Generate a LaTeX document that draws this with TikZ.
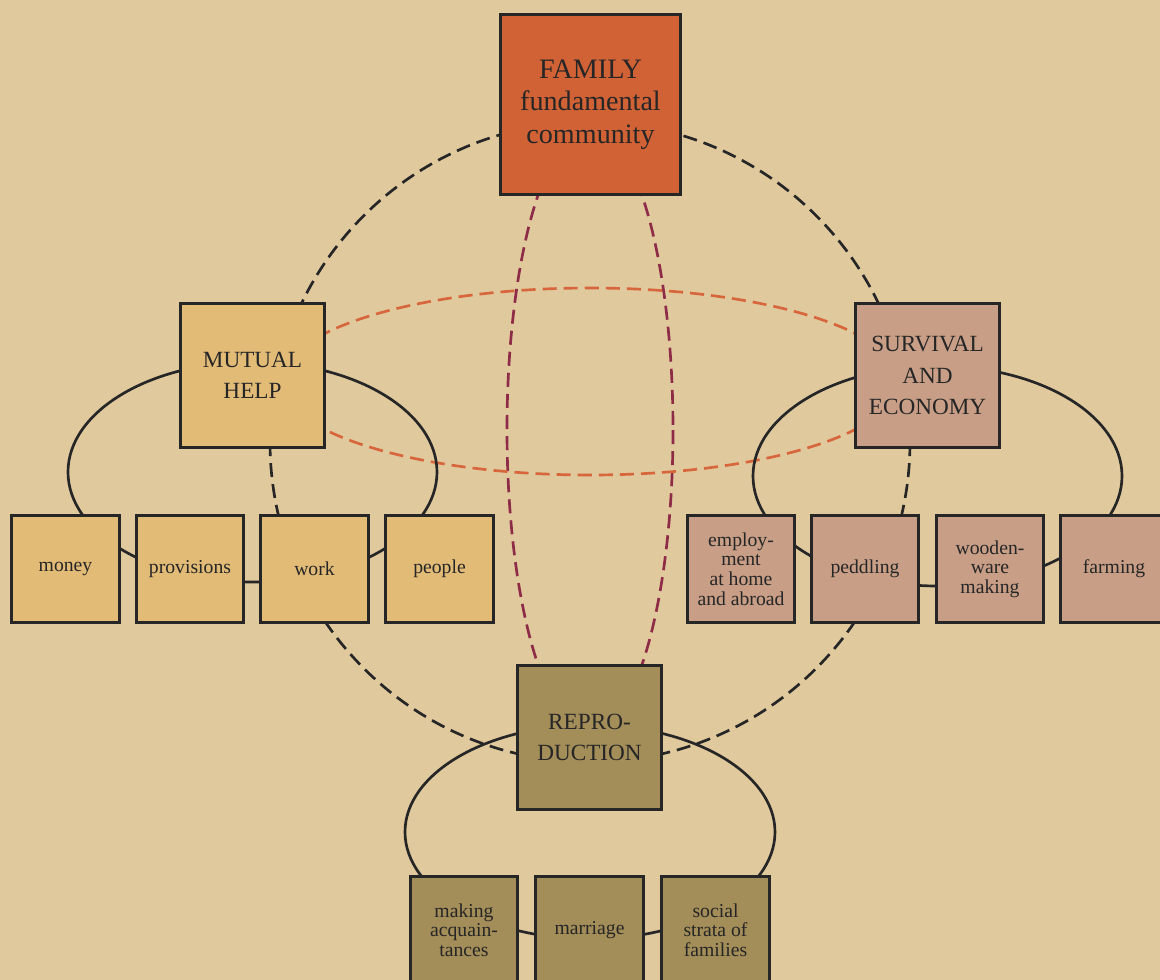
\documentclass[tikz,border=0pt]{standalone}
\usepackage{fontspec}
\setmainfont{Liberation Serif}
\definecolor{paper}{HTML}{E0C99D}
\definecolor{ink}{HTML}{262626}
\definecolor{famfill}{HTML}{D06236}
\definecolor{helpfill}{HTML}{E2BB77}
\definecolor{survfill}{HTML}{C89E86}
\definecolor{reprofill}{HTML}{A38D58}
\definecolor{orangedash}{HTML}{D8663C}
\definecolor{reddash}{HTML}{8E2C48}

\begin{document}
\begin{tikzpicture}[x=0.025cm,y=-0.025cm,
    box/.style={draw=ink,line width=2.1pt,text=ink,align=center,inner sep=0pt},
    bigbox/.style={box,minimum size=4.5cm,font=\fontsize{20}{23}\selectfont},
    midbox/.style={box,minimum size=3.6cm,font=\fontsize{16.5}{22.5}\selectfont},
    smallbox/.style={box,minimum size=2.68cm,font=\fontsize{14}{14}\selectfont},
    ring/.style={draw=ink,line width=1.9pt},
    dashring/.style={ring,dash pattern=on 10pt off 5pt}]
        \useasboundingbox (0,0) rectangle (1160,980);
        \fill[paper] (0,0) rectangle (1160,980);
        \clip (0,0) rectangle (1160,980);
        \coordinate (hub) at (590,442);
        \coordinate (helpc) at (252.5,472);
        \coordinate (survc) at (937.5,476);
        \coordinate (reproc) at (590,832);
        \draw[dashring] (hub) circle [radius=320];
        \draw[dashring,draw=reddash] (590,430) ellipse [x radius=83, y radius=301];
        \draw[dashring,draw=orangedash] (590,381.5) ellipse [x radius=309, y radius=93.5];
        \draw[ring] (helpc) ellipse [x radius=184.5, y radius=110];
        \draw[ring] (survc) ellipse [x radius=184.5, y radius=110];
        \draw[ring] (reproc) ellipse [x radius=185, y radius=107];
        \node[bigbox,fill=famfill] (family) at (590.5,104.5) {FAMILY\\fundamental\\community};
        \node[midbox,fill=helpfill] (help) at (252.5,375.5) {MUTUAL\\HELP};
        \node[midbox,fill=survfill] (surv) at (927.5,375.5) {SURVIVAL\\AND\\ECONOMY};
        \node[midbox,fill=reprofill] (repro) at (589.5,737.5) {REPRO-\\DUCTION};
        \node[smallbox,fill=helpfill] (money) at (65.5,569) {money};
        \node[smallbox,fill=helpfill] (provisions) at (190,569) {provisions};
        \node[smallbox,fill=helpfill] (work) at (314.5,569) {work};
        \node[smallbox,fill=helpfill] (people) at (439.5,569) {people};
        \node[smallbox,fill=survfill] (employment) at (741,569) {employ-\\ment\\at home\\and abroad};
        \node[smallbox,fill=survfill] (peddling) at (865,569) {peddling};
        \node[smallbox,fill=survfill] (woodenware) at (990,569) {wooden-\\ware\\making};
        \node[smallbox,fill=survfill] (farming) at (1114,569) {farming};
        \node[smallbox,fill=reprofill] (acquaint) at (464,930) {making\\acquain-\\tances};
        \node[smallbox,fill=reprofill] (marriage) at (589.5,930) {marriage};
        \node[smallbox,fill=reprofill] (strata) at (715.5,930) {social\\strata of\\families};
    \end{tikzpicture}
\end{document}
